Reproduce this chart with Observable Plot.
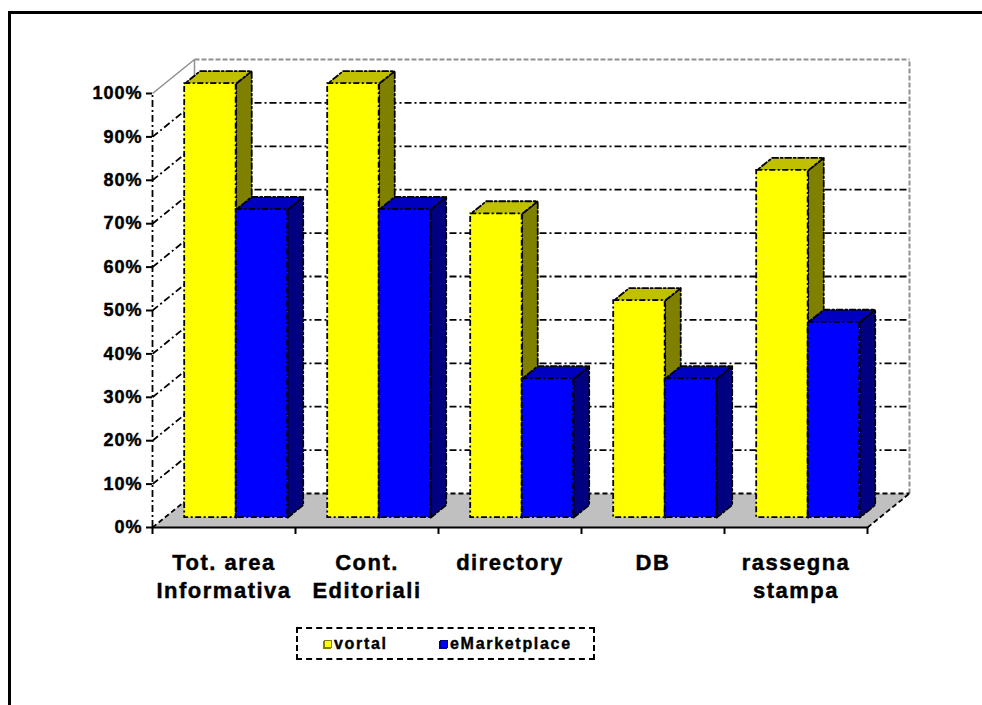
<!DOCTYPE html>
<html>
<head>
<meta charset="utf-8">
<script src="https://cdn.jsdelivr.net/npm/d3@7"></script>
<script src="https://cdn.jsdelivr.net/npm/@observablehq/plot@0.6"></script>
<style>
html, body { margin: 0; padding: 0; background: #fff; overflow: hidden; width: 982px; height: 705px; }
#wrap { position: relative; width: 982px; height: 705px; font-family: "Liberation Sans", Arial, sans-serif; }
#chart svg { display: block; }
#chart svg text { letter-spacing: 1.5px; font-weight: bold; stroke: #000; stroke-width: 0.45px; }
#chart svg .yax text { letter-spacing: 1px; }
#frame { position: absolute; left: 8px; top: 11px; width: 1000px; height: 720px; border: 3px solid #000; pointer-events: none; z-index: 3; }
#legend { position: absolute; left: 296px; top: 627px; width: 295px; height: 29px; border: 2px dashed #000; }
#legend .item { position: absolute; top: 0; height: 29px; display: flex; align-items: center; font-size: 16px; font-weight: bold; letter-spacing: 1.7px; color: #000; -webkit-text-stroke: 0.4px #000; }
#legend .sw { width: 8px; height: 8px; margin-right: 2px; box-sizing: border-box; }
</style>
</head>
<body>
<div id="wrap">
  <div id="chart"></div>
  <div id="legend"></div>
  <div id="frame"></div>
</div>
<script>
// ---- data ----
const categories = ["Tot. area\nInformativa", "Cont.\nEditoriali", "directory", "DB", "rassegna\nstampa"];
const vortal = [100, 100, 70, 50, 80];
const eMarketplace = [71, 71, 32, 32, 45];
const seriesNames = ["vortal", "eMarketplace"];
const yTicks = [0, 10, 20, 30, 40, 50, 60, 70, 80, 90, 100];

// ---- styles ----
const faceColors = [
  {front: "#ffff00", side: "#808000", top: "#c0c000", border: "#808000"},
  {front: "#0000ff", side: "#000080", top: "#0000c0", border: "#000080"}
];
const dashDot = "6,2.5,2,2.5";

// ---- 3D oblique projection (depth 0 = front plane, 1 = back wall) ----
const DX = 42 / 143, DY = 34 / 4.34;
const F1 = 0.29, F2 = 0.66;
const P = (x, y, d) => ({x: x + d * DX, y: y + d * DY});
const nCat = categories.length;

const bars = categories.flatMap((c, i) =>
  [vortal[i], eMarketplace[i]].map((v, s) => {
    const xl = i + 0.14 + s * 0.36, xr = xl + 0.36;
    return {cat: i, s, value: v, xl, xr};
  })
);

function polys(list) {
  return list.flatMap((pts, k) => [...pts, pts[0]].map(p => ({...p, k})));
}

const gridVals = yTicks.filter(v => v > 0 && v < 100);
const seg = (a, b) => ({x1: a.x, y1: a.y, x2: b.x, y2: b.y});
const backGrid = gridVals.map(v => seg(P(0, v, 1), P(nCat, v, 1)));
const leftGrid = gridVals.map(v => seg(P(0, v, 0), P(0, v, 1)));
const wallEdgesDashed = [seg(P(0, 100, 1), P(nCat, 100, 1)), seg(P(nCat, 0, 1), P(nCat, 100, 1))];
const wallEdgesSolid = [seg(P(0, 0, 1), P(0, 100, 1)), seg(P(0, 100, 0), P(0, 100, 1))];
const floor = polys([[P(0, 0, 0), P(nCat, 0, 0), P(nCat, 0, 1), P(0, 0, 1)]]);
const floorEdges = [seg(P(nCat, 0, 0), P(nCat, 0, 1)), seg(P(0, 0, 1), P(nCat, 0, 1)), seg(P(0, 0, 0), P(0, 0, 1))];

const outline = {stroke: "#000", strokeWidth: 1.8, strokeDasharray: dashDot};
const barMarks = [];
for (let s = 0; s < 2; s++) {
  const b = bars.filter(d => d.s === s);
  barMarks.push(Plot.line(polys(b.map(d => [P(d.xr, 0, F1), P(d.xr, d.value, F1), P(d.xr, d.value, F2), P(d.xr, 0, F2)])),
    {x: "x", y: "y", z: "k", fill: faceColors[s].side, ...outline}));
}
for (let s = 0; s < 2; s++) {
  const b = bars.filter(d => d.s === s);
  barMarks.push(Plot.line(polys(b.map(d => [P(d.xl, d.value, F1), P(d.xr, d.value, F1), P(d.xr, d.value, F2), P(d.xl, d.value, F2)])),
    {x: "x", y: "y", z: "k", fill: faceColors[s].top, ...outline}));
}
for (let s = 0; s < 2; s++) {
  const b = bars.filter(d => d.s === s);
  barMarks.push(Plot.rect(b, {
    x1: d => P(d.xl, 0, F1).x, x2: d => P(d.xr, 0, F1).x,
    y1: d => P(0, 0, F1).y, y2: d => P(0, d.value, F1).y,
    fill: faceColors[s].front, ...outline
  }));
}

const gridStyle = {stroke: "#000", strokeWidth: 1.8, strokeDasharray: "7,3,2,3"};
const chart = Plot.plot({
  width: 982, height: 615,
  marginLeft: 152, marginRight: 115, marginTop: 93, marginBottom: 88,
  x: {domain: [0, nCat]},
  y: {domain: [0, 100]},
  style: {fontFamily: '"Liberation Sans", Arial, sans-serif', background: "transparent", overflow: "visible", color: "#000"},
  marks: [
    Plot.link(wallEdgesSolid, {x1: "x1", y1: "y1", x2: "x2", y2: "y2", stroke: "#909090", strokeWidth: 1.5}),
    Plot.link(wallEdgesDashed, {x1: "x1", y1: "y1", x2: "x2", y2: "y2", stroke: "#909090", strokeWidth: 2, strokeDasharray: "5,2"}),
    Plot.link(backGrid, {x1: "x1", y1: "y1", x2: "x2", y2: "y2", ...gridStyle}),
    Plot.link(leftGrid, {x1: "x1", y1: "y1", x2: "x2", y2: "y2", ...gridStyle}),
    Plot.line(floor, {x: "x", y: "y", z: "k", fill: "#c0c0c0", stroke: "none"}),
    Plot.link(floorEdges, {x1: "x1", y1: "y1", x2: "x2", y2: "y2", stroke: "#000", strokeWidth: 1.8, strokeDasharray: "5,3"}),
    Plot.ruleX([0], {y1: () => 0, y2: () => 100, ...gridStyle}),
    ...barMarks,
    Plot.ruleY([0], {x1: () => 0, x2: () => nCat, stroke: "#000", strokeWidth: 2}),
    Plot.axisX({ticks: d3.range(0, nCat + 1), tickFormat: () => "", tickSize: 7, label: null, strokeWidth: 2}),
    Plot.axisY({ticks: yTicks, tickFormat: d => d + "%", tickSize: 6, tickPadding: 4, fontSize: 18, fontWeight: "bold", label: null, strokeWidth: 2, className: "yax"}),
    Plot.text(categories, {x: (d, i) => i + 0.5, y: () => 0, text: d => d, dy: 23, lineAnchor: "top", fontSize: 22, fontWeight: "bold", lineHeight: 1.25, fill: "#000"})
  ]
});
document.getElementById("chart").appendChild(chart);

// legend
const legend = document.getElementById("legend");
const legendLeft = [26, 142];
seriesNames.forEach((name, s) => {
  const item = document.createElement("div");
  item.className = "item";
  item.style.left = legendLeft[s] + "px";
  const sw = document.createElement("span");
  sw.className = "sw";
  sw.style.background = faceColors[s].front;
  sw.style.border = "1px solid " + faceColors[s].border;
  sw.style.boxShadow = "-1px 1px 0 " + faceColors[s].side;
  item.appendChild(sw);
  item.appendChild(document.createTextNode(name));
  legend.appendChild(item);
});
</script>
</body>
</html>
